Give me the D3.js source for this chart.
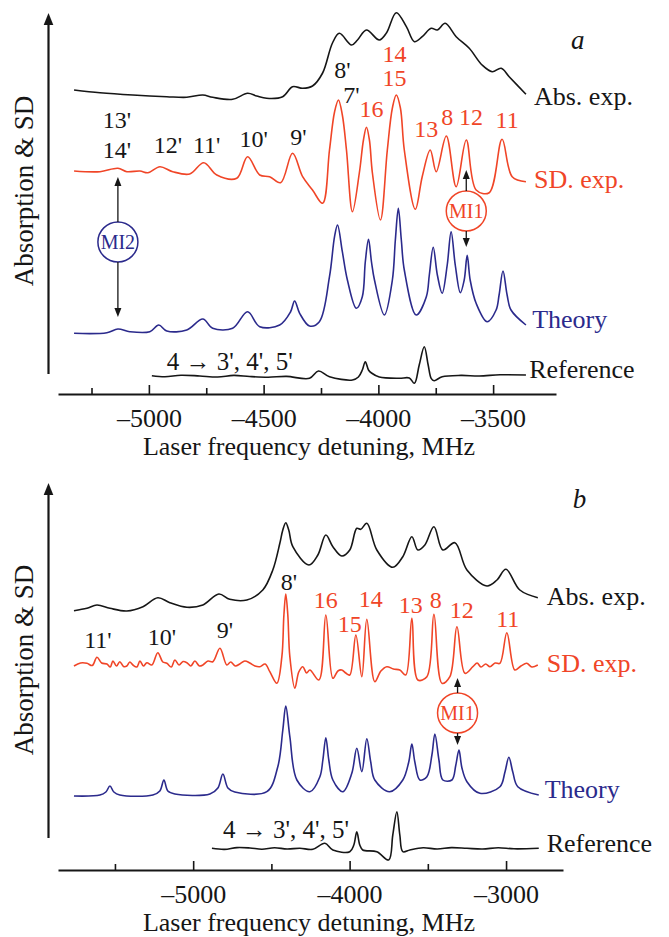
<!DOCTYPE html>
<html>
<head>
<meta charset="utf-8">
<script src="https://cdn.jsdelivr.net/npm/d3@7/dist/d3.min.js"></script>
<style>
  body { margin: 0; background: #fff; }
  svg { display: block; }
  text { font-family: "Liberation Serif", "Times New Roman", serif; }
</style>
</head>
<body>
<svg id="chart" width="669" height="937"></svg>
<script>
// ---- panel a : [MHz, signal] ----
const absA = [[-5326,304],[-5213,301.3],[-5070,299],[-4922,297.3],[-4835,296.7],[-4765,299],[-4722,296.7],
  [-4635,294.7],[-4570,300.7],[-4530,298],[-4487,295.7],[-4417,297.3],[-4374,307.3],[-4330,305.7],[-4287,308],
  [-4243,321],[-4200,351],[-4170,360.7],[-4117,349],[-4091,354],[-4052,364],[-3996,354],[-3965,361],[-3922,381.3],
  [-3878,367.3],[-3843,352.3],[-3809,357.3],[-3770,365.7],[-3743,364],[-3709,370.7],[-3661,357.3],[-3604,345.7],
  [-3548,329],[-3504,322.3],[-3465,325.7],[-3430,317.3],[-3357,299.7]];

const sdA = [[-5326,223],[-5213,222.3],[-5135,225.7],[-5096,222.3],[-5039,223],[-5004,221.3],[-4952,227.3],
  [-4896,222.3],[-4822,220],[-4761,231.3],[-4704,219],[-4617,215.7],[-4570,237.3],[-4517,219],[-4474,217.3],
  [-4426,211.3],[-4374,240.7],[-4330,217.3],[-4287,204],[-4243,190.7],[-4213,244],[-4191,282],[-4174,294],
  [-4157,279],[-4139,244],[-4113,182.3],[-4083,221],[-4065,254],[-4052,266.7],[-4039,254],[-4026,221],
  [-3991,174],[-3961,244],[-3939,286],[-3922,299],[-3904,286],[-3887,244],[-3839,184.7],[-3809,217.3],
  [-3774,244],[-3748,222.3],[-3704,258],[-3661,207.3],[-3617,254],[-3574,204],[-3517,201.3],[-3461,254.7],
  [-3417,217.3],[-3357,212.3]];

const theoryA = [[-5326,60.7],[-5183,61.3],[-5135,65],[-5083,62.3],[-4996,62.3],[-4957,69],[-4922,63],
  [-4835,64],[-4765,75],[-4722,65.7],[-4635,65.7],[-4570,82.3],[-4517,67.3],[-4430,69],[-4383,82],[-4365,93],
  [-4343,80.7],[-4300,68],[-4257,72.3],[-4213,117.3],[-4191,157.3],[-4178,169],[-4157,142.3],[-4135,114],
  [-4096,85.7],[-4070,97.3],[-4057,132],[-4043,154.7],[-4030,132],[-4017,114],[-3974,79],[-3939,114],
  [-3926,154],[-3913,185.7],[-3900,154],[-3887,124],[-3835,79],[-3791,97.3],[-3778,119],[-3761,146.7],
  [-3743,119],[-3722,100.7],[-3700,129],[-3683,162.3],[-3665,129],[-3643,101.3],[-3626,114],[-3613,138.7],
  [-3600,114],[-3574,90.7],[-3526,72.3],[-3487,84],[-3474,99],[-3457,123],[-3439,99],[-3422,84],[-3357,69]];

const refA = [[-4987,18.3],[-4930,17.3],[-4860,18.8],[-4778,18],[-4700,17],[-4630,18.6],[-4561,17.5],
  [-4480,16.8],[-4400,17.6],[-4300,15.7],[-4261,23],[-4213,17.3],[-4113,14],[-4087,17],
  [-4070,24],[-4057,32.3],[-4043,24],[-4030,21],[-3996,17],[-3909,15.7],[-3865,16],[-3843,10.7],[-3822,29],
  [-3800,47.3],[-3783,29],[-3770,15.7],[-3757,13.3],[-3722,17.3],[-3640,18.6],[-3561,18],[-3470,19.2],[-3357,19]];

// ---- panel b ----
const absB = [[-5762,259.3],[-5679,261.7],[-5615,265],[-5532,261.7],[-5424,259],[-5321,263.3],[-5226,272.3],
  [-5149,267.3],[-5040,262.7],[-4938,265],[-4836,276],[-4766,270.7],[-4657,270],[-4555,280],[-4491,300],
  [-4446,326.7],[-4427,340],[-4408,347.3],[-4389,340],[-4363,323.3],[-4260,305],[-4203,315],[-4152,335],
  [-4107,323.3],[-4050,314],[-3999,320],[-3954,341.7],[-3929,340.7],[-3890,346.7],[-3826,320],[-3724,302.7],
  [-3660,313.3],[-3602,333.3],[-3564,320],[-3519,325],[-3461,343.3],[-3404,320],[-3327,327.3],[-3250,300],
  [-3122,284],[-3058,290],[-3001,300.7],[-2912,280],[-2797,272.3]];

const sdB = [[-5762,204],[-5720,207],[-5679,206.7],[-5645,204.5],[-5615,212.7],[-5585,207],[-5551,206],
  [-5530,203],[-5513,209],[-5490,204],[-5469,208.3],[-5445,203.5],[-5424,204],[-5405,208],[-5385,205],
  [-5360,203],[-5340,209],[-5318,204],[-5296,207.3],[-5264,205],[-5226,217.3],[-5194,208],[-5168,206.7],
  [-5140,203],[-5117,210],[-5090,205],[-5065,208.5],[-5040,207.3],[-5015,204],[-4989,209],[-4960,204],
  [-4938,205],[-4905,209],[-4874,208.3],[-4829,221.7],[-4785,205],[-4760,208],[-4730,204],[-4702,206],
  [-4670,209],[-4638,207],[-4605,204],[-4574,203.3],[-4540,206],[-4510,198.3],[-4465,186.7],[-4433,213.3],
  [-4420,255],[-4408,276],[-4395,255],[-4382,213.3],[-4350,181.7],[-4325,198],[-4299,203.3],[-4275,197],
  [-4254,200],[-4196,190],[-4152,255],[-4107,191.7],[-4075,199],[-4050,200],[-4025,197],[-3999,195],
  [-3960,235],[-3922,193.3],[-3890,250.7],[-3839,188.3],[-3800,199],[-3762,203.3],[-3720,201],[-3679,200],
  [-3641,195],[-3602,251.7],[-3564,190],[-3506,193.3],[-3461,255.7],[-3410,186.7],[-3359,193.3],[-3314,243.3],
  [-3263,196.7],[-3212,203.3],[-3185,207],[-3160,203],[-3130,206],[-3103,203.3],[-3070,207],[-3039,206.7],
  [-2995,237.3],[-2944,200],[-2905,204],[-2868,206.7],[-2835,203],[-2797,205]];

const theoryB = [[-5762,74],[-5596,75],[-5558,78],[-5532,84],[-5507,78],[-5469,75],[-5258,75],[-5213,79],
  [-5187,90],[-5162,79],[-5117,76],[-4893,76],[-4842,82],[-4810,96],[-4778,82],[-4734,78],[-4529,78.3],
  [-4459,103.3],[-4427,140],[-4408,164],[-4382,133.3],[-4337,90],[-4254,78.3],[-4190,93.3],[-4171,110],
  [-4152,132.3],[-4133,110],[-4107,90],[-4043,78.3],[-3986,96.7],[-3954,121.7],[-3922,98.3],[-3890,131.3],
  [-3865,108],[-3839,90],[-3744,78.3],[-3660,90],[-3622,108],[-3602,126],[-3583,108],[-3551,90],[-3506,93.3],
  [-3474,115],[-3455,136],[-3429,110],[-3404,90],[-3346,90],[-3321,105],[-3301,120],[-3282,102],[-3250,88.3],
  [-3167,76.7],[-3039,83.3],[-3007,98],[-2982,112.7],[-2957,98],[-2925,83.3],[-2791,75]];

const refB = [[-4880,21.7],[-4800,20.6],[-4720,22.4],[-4637,22],[-4560,20.8],[-4480,22.3],[-4400,21],
  [-4318,21.7],[-4235,20.7],[-4158,26.7],[-4107,20],[-3999,18.3],
  [-3973,25],[-3954,38.3],[-3935,25],[-3916,20],[-3826,18.3],[-3750,10],[-3724,35],[-3698,58.3],[-3679,35],
  [-3660,18.3],[-3615,20],[-3530,22.2],[-3440,21],[-3350,22.4],[-3250,21.7],[-3150,21],[-3050,22.3],
  [-2950,21.2],[-2791,21.7]];

// ticks
const majorTicksA = [-5000, -4500, -4000, -3500];
const minorTicksA = [-5250, -4750, -4250, -3750];
const majorTicksB = [-5000, -4000, -3000];
const minorTicksB = [-5500, -4500, -3500];

// peak labels [text, MHz, signal, color]
const peakLabelsA = [["13'",-5139,266,'k'],["14'",-5139,236,'k'],["12'",-4917,241,'k'],["11'",-4748,241,'k'],
  ["10'",-4543,247,'k'],["9'",-4348,249,'k'],["8'",-4157,316,'k'],["7'",-4117,291,'k'],["16",-4030,277,'r'],
  ["14",-3930,332,'r'],["15",-3930,308,'r'],["13",-3791,257,'r'],["8",-3700,269,'r'],["12",-3596,269,'r'],
  ["11",-3439,266,'r']];
const peakLabelsB = [["11'",-5609,222,'k'],["10'",-5200,225,'k'],["9'",-4797,232,'k'],["8'",-4388,280,'k'],
  ["16",-4152,262,'r'],["15",-3999,238,'r'],["14",-3865,263,'r'],["13",-3609,257,'r'],["8",-3449,262,'r'],
  ["12",-3283,252,'r'],["11",-2989,243,'r']];

// trace names [text, MHz, signal, color, size]
const traceLabelsA = [["Abs. exp.",-3322,289,'k',26],["SD. exp.",-3322,206,'r',26],["Theory",-3330,66,'b',26],
  ["Reference",-3343,16,'k',26],["4 \u2192 3', 4', 5'",-4922,24,'k',25]];
const traceLabelsB = [["Abs. exp.",-2740,265,'k',26],["SD. exp.",-2740,198,'r',26],["Theory",-2753,72,'b',26],
  ["Reference",-2740,18,'k',26],["4 \u2192 3', 4', 5'",-4810,32,'k',25]];

// circled markers [text, MHz, signal, color, upTip, downTip]
const markersA = [["MI1",-3617,183,'r',224,147],["MI2",-5135,152,'b',217,77]];
const markersB = [["MI1",-3310,157,'r',192,125]];

const colors = { k: '#161616', r: '#f04527', b: '#2b2a8c' };
const svg = d3.select('#chart');

function arrowHead(g, x, y, dir, len, half, color) {
  // dir: -1 tip points up, +1 tip points down
  g.append('path')
    .attr('d', `M${x},${y} L${x - half},${y - dir * len} L${x + half},${y - dir * len} Z`)
    .attr('fill', color);
}

function drawPanel(p) {
  const x = d3.scaleLinear().domain(p.xDomain).range([58, p.xRight]);
  const y = d3.scaleLinear().domain([0, 380]).range([p.axisY, p.axisY - 380]);
  const g = svg.append('g');

  const line = d3.line()
    .x(d => x(d[0]))
    .y(d => y(d[1]))
    .curve(d3.curveCatmullRom.alpha(0.5));

  p.traces.forEach(t => {
    g.append('path')
      .attr('d', line(t.data))
      .attr('fill', 'none')
      .attr('stroke', colors[t.c])
      .attr('stroke-width', 1.6)
      .attr('stroke-linejoin', 'round');
  });

  // x axis, ticks pointing up
  const ax = g.append('g')
    .attr('transform', `translate(0,${p.axisY})`)
    .call(d3.axisBottom(x).tickValues(p.major).tickSizeInner(-9).tickSizeOuter(0)
      .tickPadding(15).tickFormat(d => '\u2013' + Math.abs(d)));
  ax.select('.domain').attr('stroke', colors.k).attr('stroke-width', 2.2);
  ax.selectAll('line').attr('stroke', colors.k).attr('stroke-width', 1.6);
  ax.selectAll('text').attr('font-size', 26).attr('fill', colors.k)
    .style('font-family', '"Liberation Serif", serif');

  const mx = g.append('g')
    .attr('transform', `translate(0,${p.axisY})`)
    .call(d3.axisBottom(x).tickValues(p.minor).tickSizeInner(-6).tickSizeOuter(0).tickFormat(''));
  mx.select('.domain').remove();
  mx.selectAll('line').attr('stroke', colors.k).attr('stroke-width', 1.6);

  g.append('text')
    .attr('x', 309).attr('y', p.axisY + 61)
    .attr('text-anchor', 'middle')
    .attr('font-size', 26).attr('fill', colors.k)
    .text('Laser frequency detuning, MHz');

  // y arrow
  g.append('line')
    .attr('x1', 48.5).attr('x2', 48.5)
    .attr('y1', p.arrowBottom).attr('y2', p.arrowTip + 8)
    .attr('stroke', colors.k).attr('stroke-width', 2.2);
  arrowHead(g, 48.5, p.arrowTip, -1, 12, 4.8, colors.k);

  g.append('text')
    .attr('transform', `translate(33,${p.yLabelMid}) rotate(-90)`)
    .attr('text-anchor', 'middle')
    .attr('font-size', 27).attr('fill', colors.k)
    .text('Absorption & SD');

  // panel letter
  g.append('text')
    .attr('x', x(p.letter[1])).attr('y', y(p.letter[2]))
    .attr('font-size', 27).attr('font-style', 'italic').attr('fill', colors.k)
    .text(p.letter[0]);

  p.peaks.forEach(d => {
    g.append('text')
      .attr('x', x(d[1])).attr('y', y(d[2]))
      .attr('text-anchor', 'middle')
      .attr('font-size', 24).attr('fill', colors[d[3]])
      .text(d[0]);
  });

  p.names.forEach(d => {
    g.append('text')
      .attr('x', x(d[1])).attr('y', y(d[2]))
      .attr('font-size', d[4])
      .attr('fill', colors[d[3]])
      .text(d[0]);
  });

  p.markers.forEach(d => {
    const cx = x(d[1]), cy = y(d[2]), r = 20;
    g.append('circle')
      .attr('cx', cx).attr('cy', cy).attr('r', r)
      .attr('fill', '#fff').attr('stroke', colors[d[3]]).attr('stroke-width', 1.5);
    g.append('text')
      .attr('x', cx).attr('y', cy + 7)
      .attr('text-anchor', 'middle')
      .attr('font-size', 20).attr('fill', colors[d[3]])
      .text(d[0]);
    const up = y(d[4]), down = y(d[5]);
    g.append('line').attr('x1', cx).attr('x2', cx).attr('y1', cy - r).attr('y2', up + 6)
      .attr('stroke', colors.k).attr('stroke-width', 1.3);
    arrowHead(g, cx, up, -1, 9, 3.5, colors.k);
    g.append('line').attr('x1', cx).attr('x2', cx).attr('y1', cy + r).attr('y2', down - 6)
      .attr('stroke', colors.k).attr('stroke-width', 1.3);
    arrowHead(g, cx, down, 1, 9, 3.5, colors.k);
  });
}

drawPanel({
  xDomain: [-5396, -3226], xRight: 556, axisY: 394,
  arrowTip: 13, arrowBottom: 374, yLabelMid: 191,
  traces: [{ data: absA, c: 'k' }, { data: sdA, c: 'r' }, { data: theoryA, c: 'b' }, { data: refA, c: 'k' }],
  major: majorTicksA, minor: minorTicksA,
  peaks: peakLabelsA, names: traceLabelsA, markers: markersA,
  letter: ['a', -3161, 345]
});

drawPanel({
  xDomain: [-5864, -2636], xRight: 563, axisY: 870,
  arrowTip: 483, arrowBottom: 838, yLabelMid: 660,
  traces: [{ data: absB, c: 'k' }, { data: sdB, c: 'r' }, { data: theoryB, c: 'b' }, { data: refB, c: 'k' }],
  major: majorTicksB, minor: minorTicksB,
  peaks: peakLabelsB, names: traceLabelsB, markers: markersB,
  letter: ['b', -2573, 362]
});
</script>
</body>
</html>
